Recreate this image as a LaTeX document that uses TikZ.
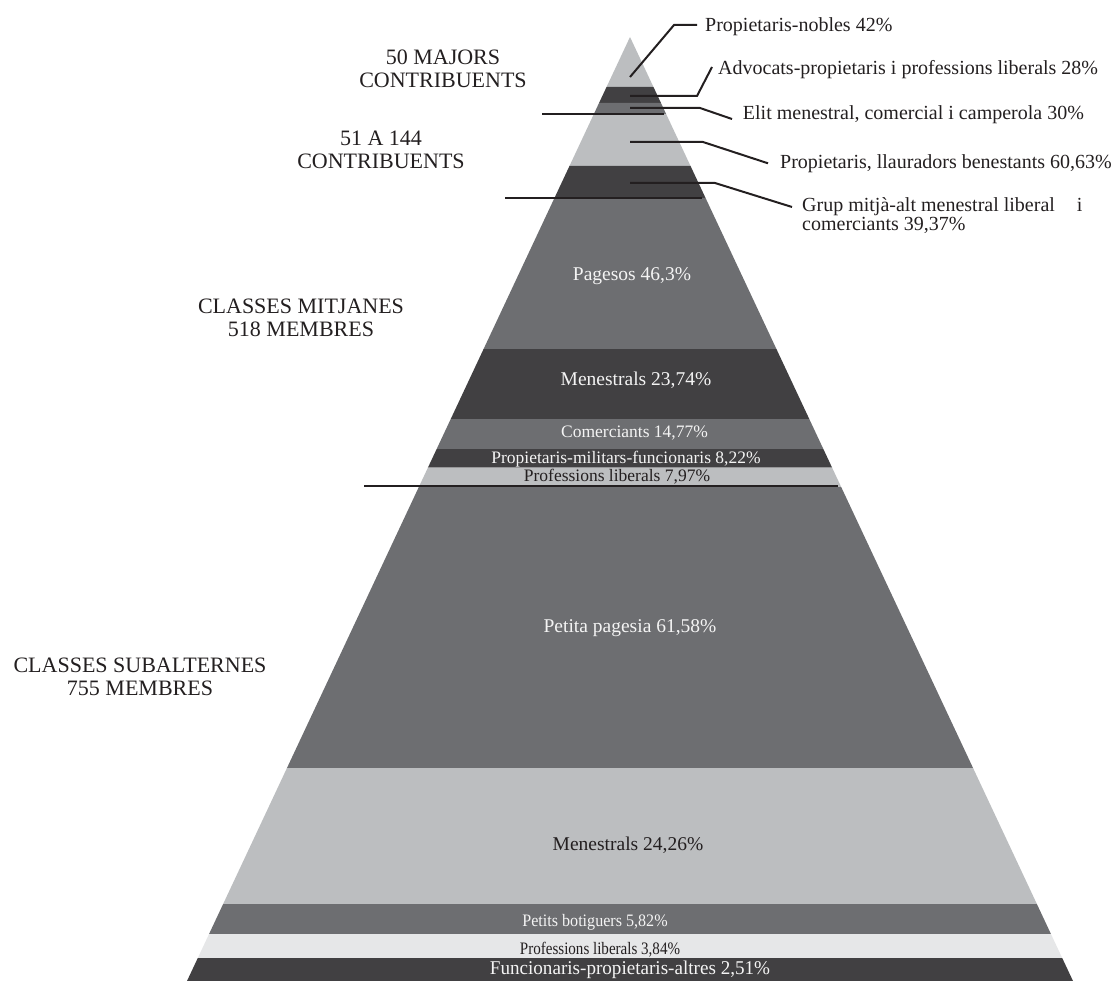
\documentclass[tikz,border=0pt]{standalone}
\usepackage{graphicx}
\usepackage{fontspec}
\setmainfont{Liberation Serif}
\usetikzlibrary{calc}
\definecolor{lgray}{HTML}{BCBEC0}
\definecolor{mgray}{HTML}{6D6E71}
\definecolor{dgray}{HTML}{414042}
\definecolor{vlgray}{HTML}{E6E7E8}
\definecolor{ink}{HTML}{231F20}
\definecolor{wtext}{HTML}{F4F4F4}
\newcommand\pband[3]{\fill[#3] ({630-0.46928*(#1-37)},#1) -- ({630+0.46928*(#1-37)},#1) -- ({630+0.46928*(#2-37)},#2) -- ({630-0.46928*(#2-37)},#2) -- cycle;}
\newcommand\narrow[2]{\scalebox{#1}[1]{#2}}
\begin{document}
\begin{tikzpicture}[x=1pt,y=-1pt,
  leader/.style={draw=ink, line width=2pt},
  divider/.style={draw=ink, line width=2pt},
  rlab/.style={anchor=base west, inner sep=0pt, text=ink, font=\fontsize{20}{19}\selectfont},
  llab/.style={anchor=center, inner sep=0pt, text=ink, align=center, font=\fontsize{22}{23}\selectfont},
  wlab/.style={anchor=base, inner sep=0pt, text=wtext},
  blab/.style={anchor=base, inner sep=0pt, text=ink},
  big/.style={font=\fontsize{19.5}{22}\selectfont},
  small/.style={font=\fontsize{17.5}{20}\selectfont}]
\useasboundingbox (0,0) rectangle (1115,981);
% pyramid bands
\pband{37}{87}{lgray}
\pband{87}{103}{dgray}
\pband{103}{114}{mgray}
\pband{114}{166}{lgray}
\pband{166}{198}{dgray}
\pband{198}{349}{mgray}
\pband{349}{419}{dgray}
\pband{419}{449}{mgray}
\pband{449}{467.5}{dgray}
\pband{467.5}{487}{lgray}
\pband{487}{768}{mgray}
\pband{768}{904}{lgray}
\pband{904}{934}{mgray}
\pband{934}{958}{vlgray}
\pband{958}{981}{dgray}
% band labels
\node[wlab,big] (pag) at (632,281) {Pagesos 46,3\%};
\node[wlab,big] (men1) at (636,385) {Menestrals 23,74\%};
\node[wlab,small] (com) at (634.5,437.3) {Comerciants 14,77\%};
\node[wlab,small] (pmf) at (626,463.3) {Propietaris-militars-funcionaris 8,22\%};
\node[blab,small] (pl1) at (617,481.7) {Professions liberals 7,97\%};
\node[wlab,big] (ppa) at (630,632) {Petita pagesia 61,58\%};
\node[blab,big] (men2) at (628,850) {Menestrals 24,26\%};
\node[wlab,small] (pbo) at (595,926.7) {\narrow{0.92}{Petits botiguers 5,82\%}};
\node[blab,small] (pl2) at (600,954) {\narrow{0.86}{Professions liberals 3,84\%}};
\node[wlab,font=\fontsize{19.5}{20}\selectfont] (fpa) at (630,974.3) {\narrow{0.98}{Funcionaris-propietaris-altres 2,51\%}};
% left labels
\node[llab] (L1) at (443,68.4) {50 MAJORS\\CONTRIBUENTS};
\node[llab] (L2) at (381,150.2) {51 A 144\\CONTRIBUENTS};
\node[llab] (L3) at (301,318.2) {CLASSES MITJANES\\518 MEMBRES};
\node[llab] (L4) at (140,676.7) {CLASSES SUBALTERNES\\755 MEMBRES};
% right labels
\node[rlab] (R1) at (705,31.7) {Propietaris-nobles 42\%};
\node[rlab] (R2) at (718,75) {Advocats-propietaris i professions liberals 28\%};
\node[rlab] (R3) at (742.7,120) {Elit menestral, comercial i camperola 30\%};
\node[rlab] (R4) at (780,168.3) {Propietaris, llauradors benestants 60,63\%};
\node[rlab,anchor=north west,align=left] (R5) at (802,197.5) {Grup mitjà-alt menestral liberal\hspace{1.1em}i\\comerciants 39,37\%};
% leader start points and bends
\coordinate (s1) at (630,77);  \coordinate (b1) at (674,25);
\coordinate (s2) at (630,96);  \coordinate (b2) at (697,96);
\coordinate (s3) at (630,108); \coordinate (b3) at (700,108);
\coordinate (s4) at (630,142); \coordinate (b4) at (703,142);
\coordinate (s5) at (630,183); \coordinate (b5) at (715,183);
\draw[leader] (s1) -- (b1) -- ($(R1.base west)+(-8,-6.7)$);
\draw[leader] (s2) -- (b2) -- ($(R2.base west)+(-6,-8)$);
\draw[leader] (s3) -- (b3) -- ($(R3.base west)+(-10.7,-1)$);
\draw[leader] (s4) -- (b4) -- ($(R4.base west)+(-12,-5)$);
\draw[leader] (s5) -- (b5) -- ($(R5.north west)+(-10,9.5)$);
% dividers
\coordinate (d1a) at (542,114); \coordinate (d1b) at (664,114);
\coordinate (d2a) at (505,198); \coordinate (d2b) at (702,198);
\coordinate (d3a) at (364,486); \coordinate (d3b) at (838,486);
\draw[divider] (d1a) -- (d1b);
\draw[divider] (d2a) -- (d2b);
\draw[divider] (d3a) -- (d3b);
\end{tikzpicture}
\end{document}
